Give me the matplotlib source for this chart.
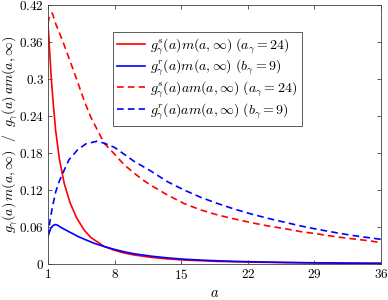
import matplotlib
matplotlib.use('Agg')
import matplotlib.pyplot as plt

# values
a_red = [1, 1.1, 1.2, 1.35, 1.5, 1.8, 2.2, 2.7, 3.3, 4, 4.8, 5.5, 6.9, 8, 9, 10,
         11.78, 13.55, 15.3, 18.83, 22.38, 25.9, 29.4, 32.9, 36]
red_m = [0.39, 0.365, 0.338, 0.30, 0.27, 0.217, 0.17, 0.131, 0.10, 0.075, 0.055,
         0.043, 0.0284, 0.0222, 0.0179, 0.0148, 0.0109, 0.0083, 0.0064, 0.0042,
         0.003, 0.0022, 0.00165, 0.00125, 0.00096]

a_blue = [1, 1.15, 1.3, 1.5, 1.75, 2, 2.4, 3, 3.5, 4.1, 5, 5.86, 6.9, 8, 9, 10,
          11.78, 13.55, 15.3, 17.07, 18.83, 20.6, 22.38, 24.14, 25.9, 27.6, 29.4,
          31.2, 32.9, 34.7, 36]
blue_m = [0.045, 0.052, 0.058, 0.062, 0.064, 0.063, 0.059, 0.054, 0.050, 0.045,
          0.039, 0.0335, 0.0284, 0.0236, 0.0198, 0.0167, 0.0128, 0.0099, 0.0078,
          0.0063, 0.0052, 0.0043, 0.0036, 0.0031, 0.0026, 0.0022, 0.0019, 0.0016,
          0.0014, 0.0012, 0.0011]

a_red_am = [1, 1.15, 1.45, 1.8, 2.2, 2.7, 3.3, 4, 4.8, 5.5, 6.9, 8, 9, 10, 11,
            11.78, 13.55, 15.3, 17.07, 18.83, 20.6, 22.38, 24.14, 25.9, 27.6,
            29.4, 31.2, 32.9, 34.7, 36]
red_am = [0.39, 0.402, 0.407, 0.39, 0.375, 0.355, 0.33, 0.30, 0.265, 0.238, 0.196,
          0.178, 0.161, 0.148, 0.136, 0.128, 0.112, 0.098, 0.0876, 0.0795, 0.073,
          0.067, 0.0616, 0.0573, 0.0524, 0.0486, 0.0443, 0.041, 0.0378, 0.0346]

a_blue_am = [1, 1.1, 1.28, 1.5, 1.81, 2.1, 2.4, 3.2, 4.1, 5, 6.15, 6.9, 8, 9, 10,
             11, 11.78, 13.55, 15.3, 17.07, 18.83, 20.6, 22.38, 24.14, 25.9, 27.6,
             29.4, 31.2, 32.9, 34.7, 36]
blue_am = [0.045, 0.058, 0.077, 0.095, 0.117, 0.131, 0.142, 0.169, 0.185, 0.195,
           0.199, 0.196, 0.189, 0.178, 0.167, 0.158, 0.151, 0.1335, 0.12, 0.108,
           0.098, 0.089, 0.081, 0.074, 0.0676, 0.0616, 0.056, 0.051, 0.0465,
           0.0427, 0.040]

labels = [r'$g^s_\gamma(a)m(a,\infty)\ (a_\gamma=24)$',
          r'$g^r_\gamma(a)m(a,\infty)\ (b_\gamma=9)$',
          r'$g^s_\gamma(a)am(a,\infty)\ (a_\gamma=24)$',
          r'$g^r_\gamma(a)am(a,\infty)\ (b_\gamma=9)$']

xticks = [1, 8, 15, 22, 29, 36]
yticks = [0, 0.06, 0.12, 0.18, 0.24, 0.3, 0.36, 0.42]
ytick_labels = ['0', '0.06', '0.12', '0.18', '0.24', '0.3', '0.36', '0.42']

plt.rcParams['mathtext.fontset'] = 'cm'
plt.rcParams['font.family'] = 'serif'
plt.rcParams['font.serif'] = ['DejaVu Serif']

fig = plt.figure(figsize=(3.88, 3.0), dpi=100)
ax = fig.add_axes([48 / 388, 1 - 264 / 300, 333 / 388, 259 / 300])

dash = (4, 2.5)
ax.plot(a_red, red_m, color='#ff0000', lw=1.2, label=labels[0])
ax.plot(a_blue, blue_m, color='#0000ff', lw=1.2, label=labels[1])
ax.plot(a_red_am, red_am, color='#ff0000', lw=1.2, dashes=dash, label=labels[2])
ax.plot(a_blue_am, blue_am, color='#0000ff', lw=1.2, dashes=dash, label=labels[3])

ax.set_xlim(1, 36)
ax.set_ylim(0, 0.42)
ax.set_xticks(xticks)
ax.set_xticklabels(['$%d$' % t for t in xticks])
ax.set_yticks(yticks)
ax.set_yticklabels(['$%s$' % t for t in ytick_labels])
ax.tick_params(direction='in', top=True, right=True, length=3, width=0.6,
               color='#404040', labelsize=9.5, pad=3)
for s in ax.spines.values():
    s.set_linewidth(0.6)
    s.set_color('#404040')

ax.set_xlabel('$a$', fontsize=10.5)
ax.xaxis.set_label_coords(0.5, -0.085)
ax.set_ylabel(r'$g_\gamma(a)\,m(a,\infty)\ \ /\ \ g_\gamma(a)\,am(a,\infty)$',
              fontsize=10)
ax.yaxis.set_label_coords(-0.085, 0.5)

leg = ax.legend(loc='upper left', bbox_to_anchor=(65 / 333, 232 / 259),
                borderaxespad=0, fontsize=10, fancybox=False, framealpha=1,
                edgecolor='#404040', handlelength=2.0, handletextpad=0.4,
                labelspacing=0.1, borderpad=0.3)
leg.get_frame().set_linewidth(0.6)

fig.savefig('out.png', dpi=100)
